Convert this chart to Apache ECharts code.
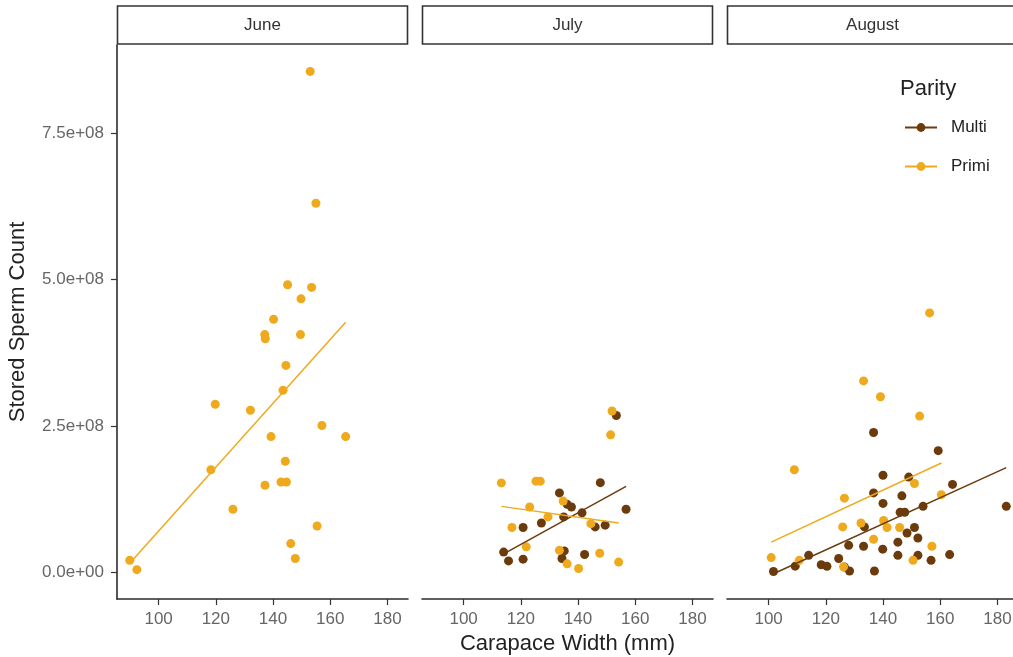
<!DOCTYPE html>
<html>
<head>
<meta charset="utf-8">
<script src="https://cdn.jsdelivr.net/npm/echarts@6/dist/echarts.min.js"></script>
<style>
  html, body { margin: 0; padding: 0; background: #fff; }
  #chart { width: 1013px; height: 657px; }
</style>
</head>
<body>
<div id="chart"></div>
<script>
// facet labels
const months = ['June', 'July', 'August'];
const parities = ['Multi', 'Primi'];

// axis ticks
const xTicks = [100, 120, 140, 160, 180];
const yTicks = [0, 2.5e8, 5e8, 7.5e8];
const yTickLabels = ['0.0e+00', '2.5e+08', '5.0e+08', '7.5e+08'];

// June (only primiparous)
const junePrimiWidth = [153.0, 155.0, 145.1, 153.5, 149.8, 140.2, 137.1, 137.3, 149.6, 144.5, 143.5, 119.8, 132.1, 157.1, 165.4, 139.3, 144.3, 118.3, 137.2, 142.8, 144.7, 126.0, 155.4, 146.2, 147.8, 89.9, 92.4];
const junePrimiCount = [8.55e8, 6.30e8, 4.91e8, 4.865e8, 4.67e8, 4.32e8, 4.06e8, 3.99e8, 4.06e8, 3.535e8, 3.11e8, 2.87e8, 2.77e8, 2.51e8, 2.32e8, 2.32e8, 1.90e8, 1.755e8, 1.49e8, 1.545e8, 1.545e8, 1.08e8, 0.795e8, 0.495e8, 0.24e8, 0.21e8, 0.05e8];

// July
const julyPrimiWidth = [151.9, 151.4, 113.2, 125.3, 126.8, 123.1, 129.5, 144.5, 116.9, 121.9, 133.5, 136.2, 140.2, 147.6, 154.2, 134.8];
const julyPrimiCount = [2.756e8, 2.35e8, 1.53e8, 1.56e8, 1.56e8, 1.12e8, 0.95e8, 0.835e8, 0.77e8, 0.44e8, 0.38e8, 0.15e8, 0.07e8, 0.33e8, 0.18e8, 1.22e8];
const julyMultiWidth = [153.4, 147.8, 133.5, 136.2, 137.7, 141.4, 156.8, 135.0, 127.2, 146.0, 149.5, 120.8, 114.0, 115.7, 120.8, 135.2, 134.4, 142.3];
const julyMultiCount = [2.68e8, 1.535e8, 1.36e8, 1.165e8, 1.12e8, 1.02e8, 1.08e8, 0.95e8, 0.846e8, 0.78e8, 0.81e8, 0.77e8, 0.35e8, 0.20e8, 0.23e8, 0.37e8, 0.24e8, 0.31e8];

// August
const augPrimiWidth = [156.3, 133.2, 139.1, 152.8, 109.0, 151.0, 160.4, 126.5, 125.9, 132.3, 140.2, 141.4, 145.8, 136.7, 157.1, 100.9, 110.7, 150.5, 126.2];
const augPrimiCount = [4.43e8, 3.27e8, 3.0e8, 2.67e8, 1.755e8, 1.52e8, 1.33e8, 1.27e8, 0.78e8, 0.846e8, 0.89e8, 0.77e8, 0.77e8, 0.57e8, 0.45e8, 0.256e8, 0.21e8, 0.21e8, 0.10e8];
const augMultiWidth = [136.7, 159.3, 140.0, 149.0, 164.3, 136.7, 146.6, 140.0, 154.0, 146.0, 147.6, 183.1, 133.5, 151.0, 148.4, 152.2, 128.0, 133.2, 145.2, 139.9, 114.0, 145.2, 152.2, 163.3, 156.8, 124.5, 109.3, 118.4, 120.4, 126.5, 128.3, 101.7, 137.0];
const augMultiCount = [2.39e8, 2.08e8, 1.66e8, 1.63e8, 1.505e8, 1.36e8, 1.31e8, 1.18e8, 1.13e8, 1.03e8, 1.03e8, 1.13e8, 0.78e8, 0.77e8, 0.675e8, 0.59e8, 0.465e8, 0.45e8, 0.52e8, 0.40e8, 0.295e8, 0.295e8, 0.295e8, 0.307e8, 0.21e8, 0.24e8, 0.11e8, 0.135e8, 0.107e8, 0.095e8, 0.027e8, 0.02e8, 0.027e8];

// fitted lines (end points)
const junePrimiFitX = [89.9, 165.4];
const junePrimiFitY = [0.16e8, 4.27e8];
const julyPrimiFitX = [113.2, 154.2];
const julyPrimiFitY = [1.13e8, 0.846e8];
const julyMultiFitX = [114.0, 156.8];
const julyMultiFitY = [0.32e8, 1.47e8];
const augPrimiFitX = [100.9, 160.4];
const augPrimiFitY = [0.52e8, 1.87e8];
const augMultiFitX = [101.7, 183.1];
const augMultiFitY = [-0.02e8, 1.79e8];

const colors = { Multi: '#6b3b0c', Primi: '#eeaa1c' };
const fontFamily = '"Liberation Sans", Arial, sans-serif';

const pairs = (xs, ys) => xs.map((x, i) => [x, ys[i]]);

const chartDom = document.getElementById('chart');
const myChart = echarts.init(chartDom, null, { renderer: 'canvas' });

const gridLefts = [117, 422, 727];
const gridWidth = 291;

const grids = gridLefts.map((left) => ({
  left: left,
  top: 45,
  width: gridWidth,
  height: 554,
  containLabel: false,
  outerBoundsMode: 'none',
}));

const xAxes = gridLefts.map((left, i) => ({
  type: 'value',
  gridIndex: i,
  min: 85.45,
  max: 187.2,
  splitLine: { show: false },
  axisLine: { show: true, onZero: false, lineStyle: { color: '#2b2b2b', width: 1.6 } },
  axisTick: { show: true, length: 6, customValues: xTicks, lineStyle: { color: '#333', width: 1.2 } },
  axisLabel: {
    customValues: xTicks,
    margin: 12,
    color: '#666',
    fontSize: 17,
    fontFamily: fontFamily,
  },
  name: i === 1 ? 'Carapace Width (mm)' : '',
  nameLocation: 'middle',
  nameGap: 33,
  nameTextStyle: { color: '#222', fontSize: 22, fontFamily: fontFamily },
}));

const yAxes = gridLefts.map((left, i) => ({
  type: 'value',
  gridIndex: i,
  min: -0.45e8,
  max: 9.0e8,
  splitLine: { show: false },
  axisLine: { show: i === 0, onZero: false, lineStyle: { color: '#2b2b2b', width: 1.6 } },
  axisTick: { show: i === 0, length: 6, customValues: yTicks, lineStyle: { color: '#333', width: 1.2 } },
  axisLabel: {
    show: i === 0,
    customValues: yTicks,
    margin: 13,
    color: '#666',
    fontSize: 17,
    fontFamily: fontFamily,
    formatter: (v) => {
      const k = yTicks.indexOf(v);
      return k >= 0 ? yTickLabels[k] : '';
    },
  },
  name: i === 0 ? 'Stored Sperm Count' : '',
  nameLocation: 'middle',
  nameRotate: 90,
  nameGap: 88,
  nameTextStyle: { color: '#222', fontSize: 22, fontFamily: fontFamily },
}));

const fitSeries = (name, idx, xs, ys) => ({
  name: name,
  type: 'line',
  xAxisIndex: idx,
  yAxisIndex: idx,
  data: pairs(xs, ys),
  showSymbol: false,
  symbol: 'circle',
  symbolSize: 8,
  z: 5,
  itemStyle: { color: colors[name] },
  lineStyle: { color: colors[name], width: 1.5 },
  silent: true,
});

const pointSeries = (name, idx, xs, ys) => ({
  name: name,
  type: 'scatter',
  xAxisIndex: idx,
  yAxisIndex: idx,
  data: pairs(xs, ys),
  symbolSize: 9,
  z: 3,
  itemStyle: { color: colors[name], opacity: 1 },
});

const series = [
  // lines first so the legend shows line + dot
  fitSeries('Multi', 1, julyMultiFitX, julyMultiFitY),
  fitSeries('Primi', 0, junePrimiFitX, junePrimiFitY),
  fitSeries('Primi', 1, julyPrimiFitX, julyPrimiFitY),
  fitSeries('Multi', 2, augMultiFitX, augMultiFitY),
  fitSeries('Primi', 2, augPrimiFitX, augPrimiFitY),
  pointSeries('Primi', 0, junePrimiWidth, junePrimiCount),
  pointSeries('Multi', 1, julyMultiWidth, julyMultiCount),
  pointSeries('Primi', 1, julyPrimiWidth, julyPrimiCount),
  pointSeries('Multi', 2, augMultiWidth, augMultiCount),
  pointSeries('Primi', 2, augPrimiWidth, augPrimiCount),
];

// facet strips
const strips = [];
months.forEach((m, i) => {
  strips.push({
    type: 'rect',
    shape: { x: gridLefts[i] + 0.5, y: 6, width: gridWidth - 1, height: 38 },
    style: { fill: '#fff', stroke: '#333', lineWidth: 1.6 },
    z: 10,
  });
  strips.push({
    type: 'text',
    x: gridLefts[i] + gridWidth / 2,
    y: 25,
    style: {
      text: m,
      fill: '#333',
      font: '17px ' + fontFamily,
      align: 'center',
      verticalAlign: 'middle',
    },
    z: 11,
  });
});

const option = {
  animation: false,
  backgroundColor: '#fff',
  title: {
    text: 'Parity',
    left: 900,
    top: 78,
    padding: 0,
    textStyle: { color: '#222', fontSize: 22, fontWeight: 'normal', fontFamily: fontFamily },
  },
  legend: {
    data: parities,
    orient: 'vertical',
    left: 904,
    top: 119,
    itemWidth: 32,
    itemHeight: 11,
    itemGap: 22,
    padding: 0,
    selectedMode: false,
    textStyle: { color: '#222', fontSize: 17, fontFamily: fontFamily, padding: [0, 0, 0, 9] },
  },
  grid: grids,
  xAxis: xAxes,
  yAxis: yAxes,
  graphic: strips,
  series: series,
};

myChart.setOption(option);
window.addEventListener('resize', () => myChart.resize());
</script>
</body>
</html>
